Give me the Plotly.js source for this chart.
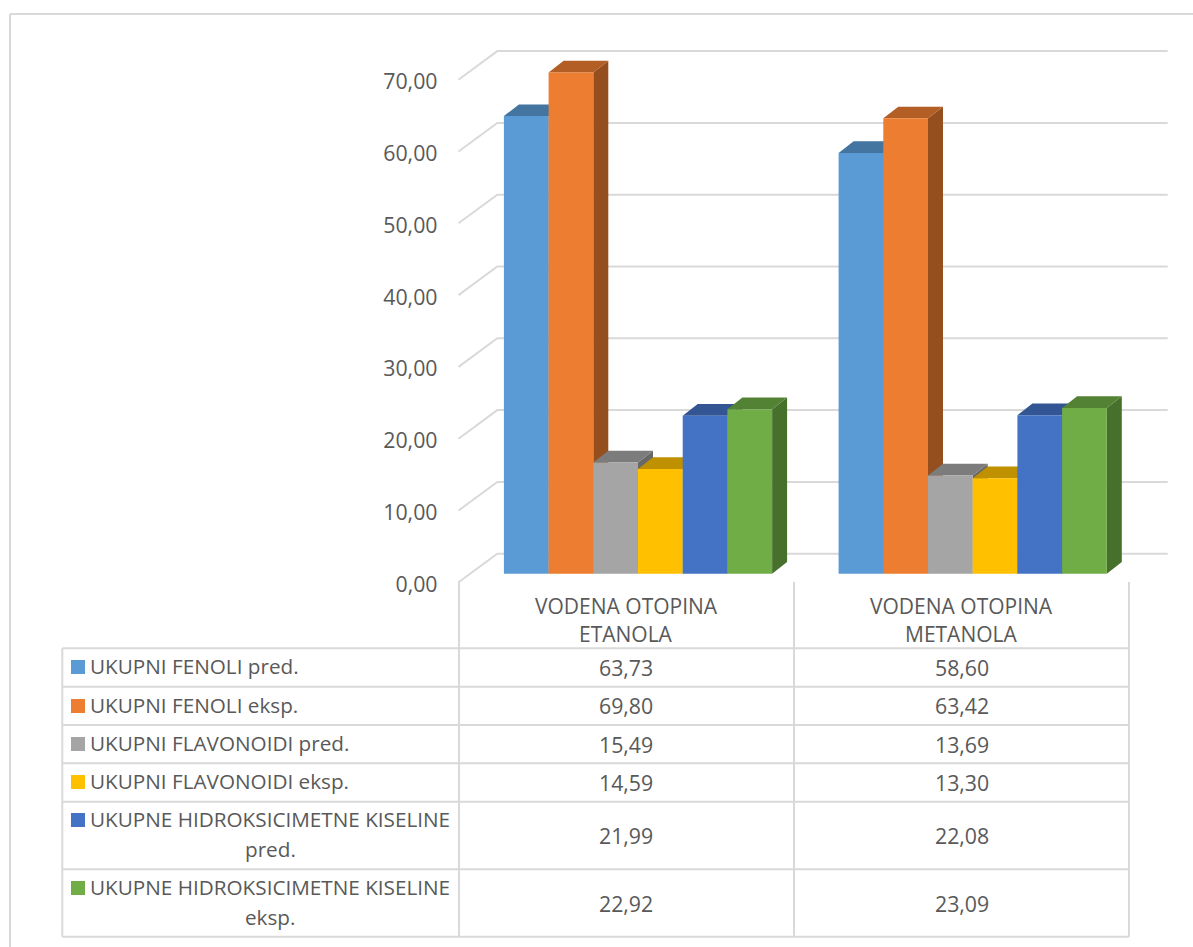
<!DOCTYPE html>
<html>
<head>
<meta charset="utf-8">
<script src="https://cdn.plot.ly/plotly-3.0.1.min.js"></script>
<style>html,body{margin:0;padding:0;background:#fff;overflow:hidden}</style>
</head>
<body>
<div id="chart" style="width:1193px;height:947px"></div>
<script>
// Extraction results per solvent
const categories = [['VODENA OTOPINA', 'ETANOLA'], ['VODENA OTOPINA', 'METANOLA']];
const seriesLabels = [
  ['UKUPNI FENOLI pred.'],
  ['UKUPNI FENOLI eksp.'],
  ['UKUPNI FLAVONOIDI pred.'],
  ['UKUPNI FLAVONOIDI eksp.'],
  ['UKUPNE HIDROKSICIMETNE KISELINE', 'pred.'],
  ['UKUPNE HIDROKSICIMETNE KISELINE', 'eksp.']
];
const fenoliPred = [63.73, 58.60];
const fenoliEksp = [69.80, 63.42];
const flavonoidiPred = [15.49, 13.69];
const flavonoidiEksp = [14.59, 13.30];
const kiselinePred = [21.99, 22.08];
const kiselineEksp = [22.92, 23.09];
const series = [fenoliPred, fenoliEksp, flavonoidiPred, flavonoidiEksp, kiselinePred, kiselineEksp];
const axisTicks = [0, 10, 20, 30, 40, 50, 60, 70];

const frontColors = ['#5B9BD5', '#ED7D31', '#A5A5A5', '#FFC000', '#4472C4', '#70AD47'];
const topColors = ['#4474A0', '#B25E25', '#7C7C7C', '#BF9000', '#335593', '#548235'];
const sideColors = ['#396086', '#954F1F', '#686868', '#A17900', '#2B487C', '#46702C'];

// Page geometry, in pixels
const W = 1193, H = 947;
const TEXT = '#595959', LINE = '#D9D9D9';
const FONT = '"Open Sans", sans-serif';
const SIZE_TICK = 21.3, SIZE_VALUE = 21.3, SIZE_CATEGORY = 21, SIZE_SERIES = 20.7;
const unitY = 7.18;            // pixels per axis unit
const frontZero = 582.3;       // zero on the front edge of the floor
const backZero = 553.7;        // zero on the back wall
const barZero = 573.7;         // zero at the bar bases
const clusterStep = 334.7;     // pixels between categories
const firstCluster = 638;      // centre of the first bar group
const barW = 44.7 / clusterStep;
const faceDx = 15 / clusterStep, faceDy = 11.7 / unitY;
const wallDy = (frontZero - backZero) / unitY;
const toX = px => (px - firstCluster) / clusterStep;
const px = v => v / W, py = v => 1 - v / H;

const tableLeft = 62.3, col1 = 459, col2 = 794, col3 = 1129;
const headTop = 582, tableTop = 648.3;
const rowEdges = [648.3, 686.7, 725, 763.3, 801.7, 869.3, 936.7];
const keyTops = [660, 699, 737, 775, 813, 881];
const lineGap = 29.5;

const yRange = zero => [(zero - H) / unitY, zero / unitY];

const traces = [];

// Back wall and side wall gridlines
axisTicks.forEach(t => {
  traces.push({
    type: 'scatter', mode: 'lines', xaxis: 'x', yaxis: 'y', hoverinfo: 'skip', showlegend: false,
    x: [toX(458.5), toX(458.5 + 38.8), toX(1167.7)],
    y: [t, t + wallDy, t + wallDy],
    line: {color: LINE, width: 2}
  });
});

// Top and side faces of each bar, one series after the other, so nearer faces cover earlier ones
series.forEach((vals, i) => {
  const tx = [], ty = [], sx = [], sy = [];
  vals.forEach((v, c) => {
    const l = c + (i - 3) * barW, r = l + barW;
    tx.push(l, r, r + faceDx, l + faceDx, l, null);
    ty.push(v, v, v + faceDy, v + faceDy, v, null);
    sx.push(r, r + faceDx, r + faceDx, r, r, null);
    sy.push(0, faceDy, v + faceDy, v, 0, null);
  });
  [[sx, sy, sideColors[i]], [tx, ty, topColors[i]]].forEach(([x, y, color]) => {
    traces.push({
      type: 'scatter', mode: 'lines', xaxis: 'x', yaxis: 'y2', hoverinfo: 'skip', showlegend: false,
      x, y, fill: 'toself', fillcolor: color, line: {width: 0, color}
    });
  });
});

// Front faces
series.forEach((vals, i) => {
  traces.push({
    type: 'bar', xaxis: 'x', yaxis: 'y3', showlegend: false,
    name: seriesLabels[i].join(' '),
    x: categories.map((_, c) => c), y: vals,
    marker: {color: frontColors[i], line: {width: 0}}
  });
});

// Data table below the plot
const rule = (x0, y0, x1, y1) => ({
  type: 'line', xref: 'paper', yref: 'paper', layer: 'below',
  x0: px(x0), y0: py(y0), x1: px(x1), y1: py(y1), line: {color: LINE, width: 2}
});
const shapes = [
  rule(10, 14, W, 14), rule(10, 14, 10, H),
  rule(tableLeft, tableTop, tableLeft, rowEdges[6]),
  rule(col1, headTop, col1, rowEdges[6]),
  rule(col2, headTop, col2, rowEdges[6]),
  rule(col3, headTop, col3, rowEdges[6])
];
rowEdges.forEach(y => shapes.push(rule(tableLeft, y, col3, y)));
keyTops.forEach((y, i) => shapes.push({
  type: 'rect', xref: 'paper', yref: 'paper',
  x0: px(71), x1: px(85), y0: py(y), y1: py(y + 14),
  fillcolor: frontColors[i], line: {width: 0}
}));

const label = (text, x, y, xanchor, size) => ({
  text, xref: 'paper', yref: 'paper', x: px(x), y: py(y),
  xanchor, yanchor: 'middle', showarrow: false,
  font: {family: FONT, size, color: TEXT}
});
const annotations = [];
const colCentres = [(col1 + col2) / 2, (col2 + col3) / 2];
categories.forEach((lines, c) => lines.forEach((t, k) => {
  annotations.push(label(t, colCentres[c], 605.7 + k * 28.6, 'center', SIZE_CATEGORY));
}));
seriesLabels.forEach((lines, i) => {
  const first = keyTops[i] + 6;
  annotations.push(label(lines[0], 88, first, 'left', SIZE_SERIES));
  if (lines[1]) annotations.push(label(lines[1], 270, first + lineGap, 'center', SIZE_SERIES));
  const mid = (rowEdges[i] + rowEdges[i + 1]) / 2;
  series[i].forEach((v, c) => {
    annotations.push(label(v.toFixed(2).replace('.', ','), colCentres[c], mid, 'center', SIZE_VALUE));
  });
});

const layout = {
  width: W, height: H,
  margin: {l: 0, r: 0, t: 0, b: 0},
  paper_bgcolor: '#FFFFFF', plot_bgcolor: 'rgba(0,0,0,0)',
  separators: ',.',
  barmode: 'group', bargap: 1 - 6 * barW, bargroupgap: 0,
  xaxis: {
    range: [toX(0), toX(W)], domain: [0, 1], visible: false, fixedrange: true
  },
  yaxis: {
    domain: [0, 1], range: yRange(frontZero), anchor: 'free', position: 437.5 / W, side: 'left',
    tickmode: 'array', tickvals: axisTicks, tickformat: '.2f', ticklabelshift: 2,
    showgrid: false, zeroline: false, showline: false, ticks: '', fixedrange: true,
    tickfont: {family: FONT, size: SIZE_TICK, color: TEXT}, automargin: false
  },
  yaxis2: {overlaying: 'y', range: yRange(barZero), visible: false, fixedrange: true},
  yaxis3: {overlaying: 'y', range: yRange(barZero), visible: false, fixedrange: true},
  shapes, annotations,
  showlegend: false
};

Plotly.newPlot('chart', traces, layout, {displayModeBar: false, staticPlot: true});
</script>
</body>
</html>
